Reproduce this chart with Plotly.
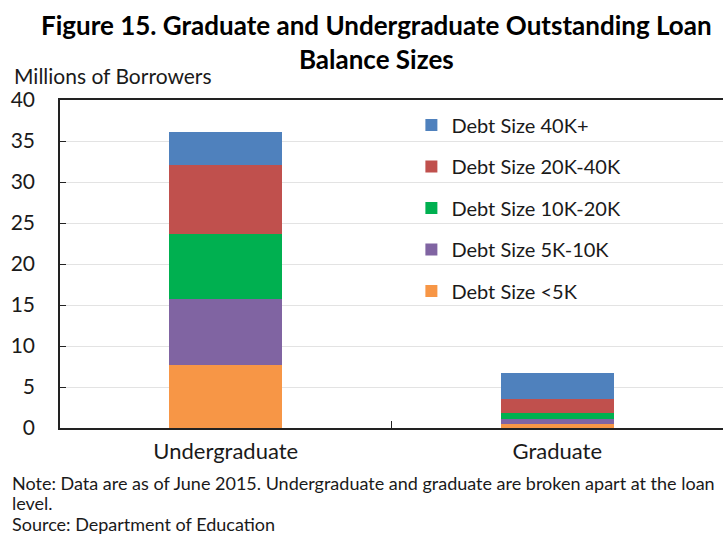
import plotly.graph_objects as go

# Borrowers (millions) by outstanding balance band
categories = ["Undergraduate", "Graduate"]
series_names = ["Debt Size <5K", "Debt Size 5K-10K", "Debt Size 10K-20K",
                "Debt Size 20K-40K", "Debt Size 40K+"]
under_5k = [7.7, 0.5]
k5_10 = [8.0, 0.6]
k10_20 = [8.0, 0.7]
k20_40 = [8.4, 1.75]
k40_plus = [4.0, 3.1]
y_ticks = [0, 5, 10, 15, 20, 25, 30, 35, 40]

colors = ["#F79646", "#8064A2", "#00B050", "#C0504D", "#4F81BD"]
values = [under_5k, k5_10, k10_20, k20_40, k40_plus]

FONT = "Lato"
TXT = "#1a1a1a"

fig = go.Figure()
n = len(series_names)
for i, (name, vals, col) in enumerate(zip(series_names, values, colors)):
    fig.add_trace(go.Bar(
        x=categories, y=vals, name=name, legendgroup=name,
        legendrank=n - i,
        marker=dict(color=col, line=dict(width=0)),
        width=0.34,
    ))

fig.update_layout(
    width=723, height=535,
    barmode="stack",
    plot_bgcolor="white", paper_bgcolor="white",
    margin=dict(l=60, r=0, t=100, b=107),
    font=dict(family=FONT, color=TXT, size=18),
    showlegend=True,
    legend=dict(
        traceorder="grouped", tracegroupgap=12.5,
        x=0.53, xanchor="left", y=0.983, yanchor="top",
        font=dict(family=FONT, size=20, color=TXT),
        bgcolor="rgba(0,0,0,0)",
    ),
    xaxis=dict(
        range=[-0.5, 1.5], showline=True, linecolor="#222222", linewidth=1.5,
        mirror=True, ticks="inside", tickson="boundaries", ticklen=7,
        tickcolor="#222222", showgrid=False,
        tickfont=dict(family=FONT, size=22, color=TXT),
        ticklabelstandoff=3,
    ),
    yaxis=dict(
        range=[0, 40], tickvals=y_ticks, showline=True, linecolor="#222222",
        linewidth=1.5, ticks="inside", ticklen=6, tickcolor="#222222",
        showgrid=True, gridcolor="#E3E3E3", gridwidth=1,
        tickfont=dict(family=FONT, size=21, color=TXT),
        ticklabelstandoff=19, zeroline=False,
    ),
)

# Two-line chart title
fig.add_annotation(
    text="<b>Figure 15. Graduate and Undergraduate Outstanding Loan<br>Balance Sizes</b>",
    xref="paper", yref="paper", x=(376.5 - 60) / 663, y=(428 - 7) / 328,
    xanchor="center", yanchor="top", align="center", showarrow=False,
    font=dict(family=FONT, size=26, color="#000000"),
)

fig.add_annotation(text="Millions of Borrowers", xref="paper", yref="paper",
                   x=(12 - 60) / 663, y=(428 - 76) / 328,
                   xanchor="left", yanchor="middle",
                   showarrow=False, font=dict(family=FONT, size=21, color=TXT))

notes = [
    ("Note: Data are as of June 2015. Undergraduate and graduate are broken apart at the loan", 483),
    ("level.", 503),
    ("Source: Department of Education", 524),
]
for txt, ypx in notes:
    fig.add_annotation(text=txt, xref="paper", yref="paper",
                       x=(10 - 60) / 663, y=(428 - ypx) / 328,
                       xanchor="left", yanchor="middle", showarrow=False,
                       font=dict(family=FONT, size=18, color=TXT))

fig.write_html("out.html")
